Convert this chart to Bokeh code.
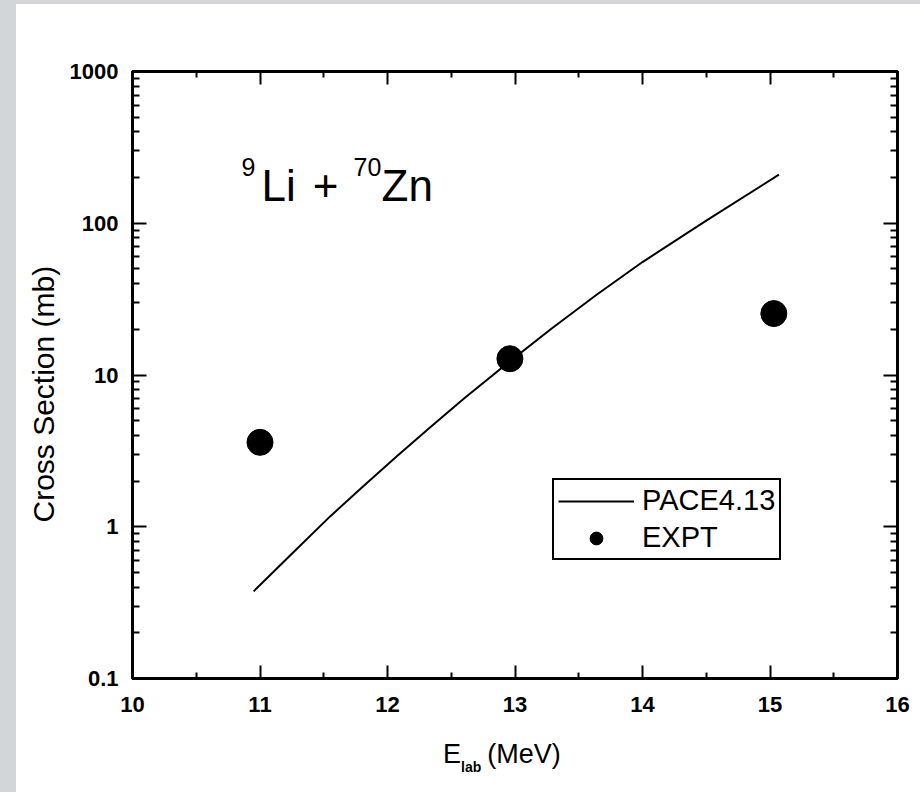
from bokeh.plotting import figure
from bokeh.models import (Range1d, LinearAxis, LogAxis, FixedTicker, Legend, LegendItem,
                          Label, CustomJSTickFormatter, Div, Spacer, Title)
from bokeh.layouts import row, column
from bokeh.embed import file_html
from bokeh.resources import INLINE

# ---- data ----
pace_e = [10.95, 11.24, 11.55, 11.81, 12.08, 12.34, 12.6, 12.96, 13.28, 13.64, 14.0, 14.5, 15.07]
pace_cs = [0.375, 0.652, 1.17, 1.85, 2.95, 4.56, 7.0, 12.3, 20.0, 33.8, 55.5, 104.0, 209.0]

expt_e = [11.0, 12.96, 15.03]
expt_cs = [3.6, 12.8, 25.4]

x_ticks = [10, 11, 12, 13, 14, 15, 16]
x_minor = [10.5, 11.5, 12.5, 13.5, 14.5, 15.5]
y_ticks = [0.1, 1, 10, 100, 1000]
y_tick_labels = ["0.1", "1", "10", "100", "1000"]
y_minor = [m * d for d in [0.1, 1, 10, 100] for m in range(2, 10)]

series_names = ["PACE4.13", "EXPT"]
y_title = "Cross Section (mb)"

FONT = "Liberation Sans"
STRIP = "#d2d6d9"

p = figure(width=904, height=726, output_backend="svg", toolbar_location=None,
           y_axis_type="log", x_range=Range1d(10, 16), y_range=Range1d(0.1, 1000),
           min_border_left=116, min_border_right=23, min_border_top=67, min_border_bottom=52)
p.xgrid.visible = False
p.ygrid.visible = False
p.background_fill_color = "white"
p.border_fill_color = "white"
p.outline_line_color = "black"
p.outline_line_width = 3

ylab_fmt = CustomJSTickFormatter(args=dict(tv=y_ticks, tl=y_tick_labels), code="""
let best = 0, bd = 1e9;
for (let i = 0; i < tv.length; i++) {
  const d = Math.abs(Math.log10(tv[i]) - Math.log10(tick));
  if (d < bd) { bd = d; best = i; }
}
return tl[best];
""")
blank = CustomJSTickFormatter(code="return '';")


def style_axis(ax, major_in, minor_in, show_labels, standoff):
    ax.axis_line_color = "black"
    ax.axis_line_width = 3
    ax.major_tick_line_color = "black"
    ax.major_tick_line_width = 2
    ax.minor_tick_line_color = "black"
    ax.minor_tick_line_width = 2
    ax.major_tick_in = major_in
    ax.major_tick_out = 0
    ax.minor_tick_in = minor_in
    ax.minor_tick_out = 0
    ax.major_label_text_font = FONT
    ax.major_label_text_font_style = "bold"
    ax.major_label_text_font_size = "22px"
    ax.major_label_text_color = "black"
    ax.major_label_standoff = standoff
    if not show_labels:
        ax.formatter = blank
        ax.major_label_standoff = 0


xt = FixedTicker(ticks=x_ticks, minor_ticks=x_minor)
yt = FixedTicker(ticks=y_ticks, minor_ticks=y_minor)

bx = p.xaxis[0]
bx.ticker = xt
style_axis(bx, 13, 6, True, 18)

ly = p.yaxis[0]
ly.ticker = yt
ly.formatter = ylab_fmt
style_axis(ly, 14, 7, True, 14)

# y axis title as a side title, anchored near the bottom of the frame
p.add_layout(Title(text=y_title, align="left", offset=156, text_font=FONT,
                   text_font_size="30px", text_font_style="normal", text_color="black",
                   standoff=14), "left")

tx = LinearAxis(ticker=xt)
style_axis(tx, 13, 6, False, 0)
p.add_layout(tx, "above")

ry = LogAxis(ticker=yt)
style_axis(ry, 14, 7, False, 0)
p.add_layout(ry, "right")

line_r = p.line(pace_e, pace_cs, line_color="black", line_width=2)
sc_r = p.scatter(expt_e, expt_cs, size=26, marker="circle", fill_color="black", line_color="black")

legend = Legend(items=[LegendItem(label=series_names[0], renderers=[line_r]),
                       LegendItem(label=series_names[1], renderers=[sc_r])],
                location=(420, 118), label_text_font=FONT, label_text_font_size="29px",
                label_text_color="black", border_line_color="black", border_line_width=2,
                border_line_alpha=1.0,
                background_fill_color="white", background_fill_alpha=1.0,
                padding=4, spacing=4, glyph_width=76, glyph_height=32, label_height=32,
                label_standoff=8, margin=0)
p.add_layout(legend)


# --- title text annotations anchored at the lower-left frame corner (10, 0.1) ---
def lab(text, dx, dy, size, align="left"):
    p.add_layout(Label(x=10, y=0.1, x_offset=dx, y_offset=dy, text=text, text_font=FONT,
                       text_font_size=size, text_align=align, text_baseline="alphabetic",
                       text_color="black"))


lab("9", 109, 512, "25px")
lab("Li", 129, 493, "44px")
lab("+", 193, 493, "44px", align="center")
lab("70", 221, 512, "25px")
lab("Zn", 249, 493, "44px")

# x axis title E_lab (MeV), with a real subscript
xlabel = Div(width=904, height=62, text=(
    '<div style="margin-left:422px;margin-top:3px;white-space:nowrap;'
    'font-family:\'Liberation Sans\';font-size:27px;color:black;line-height:32px">'
    'E<span style="font-size:14px;font-weight:bold;position:relative;top:9px">lab</span>'
    '<span style="margin-left:6px">(MeV)</span></div>'))

left_strip = Spacer(width=16, height=792, styles={"background-color": STRIP})
top_strip = Spacer(width=904, height=4, styles={"background-color": STRIP})
layout = row(left_strip, column(top_strip, p, xlabel))

open("out.html", "w").write(file_html(layout, INLINE))
